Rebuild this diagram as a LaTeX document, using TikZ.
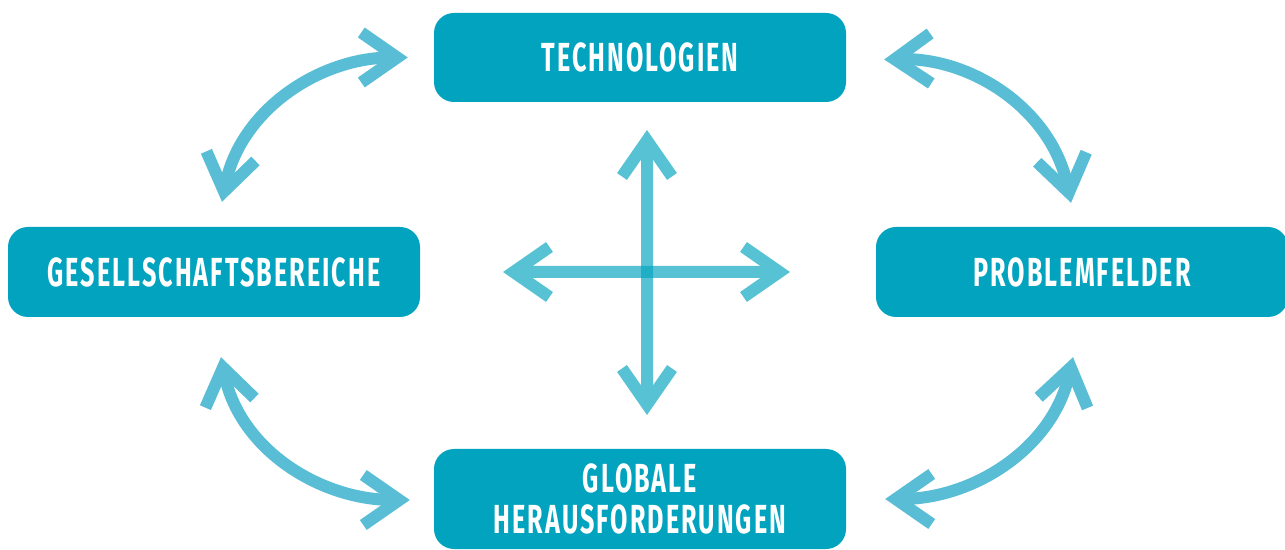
\documentclass[tikz,border=0pt]{standalone}
\usepackage{fontspec}
\usetikzlibrary{arrows.meta,calc}
\newfontfamily\topicfont{Fira Sans}[FakeStretch=0.62,LetterSpace=5]
\definecolor{topicblue}{RGB}{2,163,191}
\definecolor{linkblue}{RGB}{89,189,213}

\begin{document}
\begin{tikzpicture}[x=1pt,y=1pt,
    topic/.style={fill=topicblue,rounded corners=20pt,inner sep=0pt,minimum width=412pt,minimum height=#1,
      text=white,align=center,font=\topicfont\bfseries\fontsize{40.6}{41}\selectfont},
    >={Straight Barb[length=36pt,width=50pt]},
    link/.style={draw=linkblue,line width=12pt,<->},
    hubarrow/.style={draw=topicblue,line width=12pt,<->}]
    \useasboundingbox (0,0) rectangle (1285,549);

    % the four fields
    \node[topic=89pt] (tech) at (640,491.5) {TECHNOLOGIEN};
    \node[topic=90pt] (gesell) at (214,277) {GESELLSCHAFTSBEREICHE};
    \node[topic=90pt] (probl) at (1082,277) {PROBLEMFELDER};
    \node[topic=100pt] (global) at (640,50) {GLOBALE\\HERAUSFORDERUNGEN};
    \coordinate (hub) at (647,277);

    % curved links between neighbours
    \draw[link] ([shift={(8,25)}]gesell.north) .. controls +(18,92) and +(-88,0) .. ([shift={(-26,0)}]tech.west);
    \draw[link] ([shift={(38,-2)}]tech.east) .. controls +(88,2) and +(-19,93) .. ([shift={(-11,24)}]probl.north);
    \draw[link] ([shift={(7,-40)}]gesell.south) .. controls +(18,-92) and +(-90,0) .. ([shift={(-24,-1)}]global.west);
    \draw[link] ([shift={(39,0)}]global.east) .. controls +(87,0) and +(-20,-92) .. ([shift={(-9,-40)}]probl.south);

    % the cross in the middle
    \begin{scope}[transparency group,opacity=.66]
        \draw[hubarrow] ($(hub)+(-144,0)$) -- ($(hub)+(143,0)$);
    \end{scope}
    \begin{scope}[transparency group,opacity=.66]
        \draw[hubarrow] ($(hub)+(0,142)$) -- ($(hub)+(0,-143)$);
    \end{scope}
\end{tikzpicture}
\end{document}
